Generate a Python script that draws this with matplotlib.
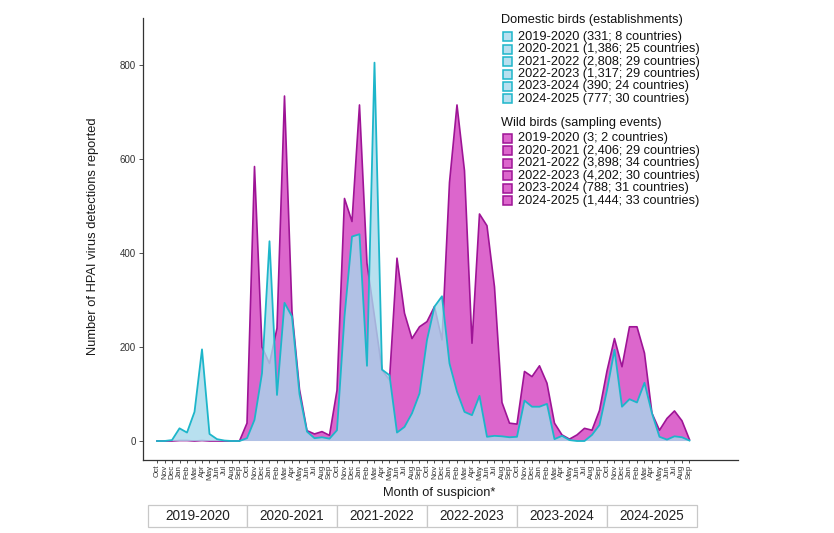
import matplotlib
matplotlib.use("Agg")
import matplotlib.pyplot as plt
from matplotlib.patches import Rectangle
import numpy as np

plt.rcParams['font.family'] = ['Liberation Sans', 'DejaVu Sans']

months = ['Oct', 'Nov', 'Dec', 'Jan', 'Feb', 'Mar', 'Apr', 'May', 'Jun', 'Jul', 'Aug', 'Sep']
seasons = ['2019-2020', '2020-2021', '2021-2022', '2022-2023', '2023-2024', '2024-2025']

# Monthly detections (Oct..Sep) per season
dom_2019_2020 = [0, 0, 2, 27, 18, 62, 195, 15, 4, 1, 0, 0]
dom_2020_2021 = [6, 45, 144, 425, 98, 294, 265, 100, 20, 6, 8, 5]
dom_2021_2022 = [23, 265, 435, 440, 160, 805, 152, 140, 18, 30, 59, 101]
dom_2022_2023 = [215, 286, 308, 165, 105, 62, 55, 96, 9, 11, 10, 8]
dom_2023_2024 = [9, 86, 73, 73, 79, 4, 11, 2, 0, 0, 13, 34]
dom_2024_2025 = [108, 194, 73, 89, 82, 124, 59, 9, 3, 10, 8, 1]

wild_2019_2020 = [0, 0, 0, 1, 1, 0, 1, 0, 0, 0, 0, 0]
wild_2020_2021 = [38, 584, 200, 165, 240, 734, 275, 110, 22, 15, 20, 12]
wild_2021_2022 = [108, 516, 467, 715, 378, 265, 151, 130, 389, 272, 218, 243]
wild_2022_2023 = [254, 286, 215, 550, 715, 575, 208, 483, 458, 328, 82, 38]
wild_2023_2024 = [36, 148, 137, 160, 123, 38, 13, 4, 13, 27, 23, 65]
wild_2024_2025 = [149, 218, 158, 243, 243, 187, 59, 23, 48, 64, 43, 3]

dom_legend = ['2019-2020 (331; 8 countries)', '2020-2021 (1,386; 25 countries)',
              '2021-2022 (2,808; 29 countries)', '2022-2023 (1,317; 29 countries)',
              '2023-2024 (390; 24 countries)', '2024-2025 (777; 30 countries)']
wild_legend = ['2019-2020 (3; 2 countries)', '2020-2021 (2,406; 29 countries)',
               '2021-2022 (3,898; 34 countries)', '2022-2023 (4,202; 30 countries)',
               '2023-2024 (788; 31 countries)', '2024-2025 (1,444; 33 countries)']

domestic = np.array(dom_2019_2020 + dom_2020_2021 + dom_2021_2022 + dom_2022_2023 + dom_2023_2024 + dom_2024_2025, float)
wild = np.array(wild_2019_2020 + wild_2020_2021 + wild_2021_2022 + wild_2022_2023 + wild_2023_2024 + wild_2024_2025, float)
x = np.arange(len(domestic))

W, H = 834, 533
fig = plt.figure(figsize=(W / 100, H / 100), dpi=100)

def fx(px):
    return px / W

def fy(py):
    return 1 - py / H

ax = fig.add_axes([fx(143), fy(460), fx(738) - fx(143), fy(18) - fy(460)])

WILD_FILL = '#DC66CC'
WILD_EDGE = '#9E1496'
DOM_FILL = '#A7D9EC'
DOM_EDGE = '#1DB6CA'

ax.fill_between(x, 0, wild, facecolor=WILD_FILL, edgecolor='none', zorder=1)
ax.plot(x, wild, color=WILD_EDGE, lw=1.2, zorder=2)
ax.fill_between(x, 0, domestic, facecolor=DOM_FILL, alpha=0.8, edgecolor='none', zorder=3)
ax.plot(x, domestic, color=DOM_EDGE, lw=1.3, zorder=4)

ax.set_xlim(-1.867, 77.47)
ax.set_ylim(-40.4, 900)
ax.set_yticks([0, 200, 400, 600, 800])
ax.set_xticks(x)
ax.set_xticklabels(months * len(seasons), rotation=90, fontsize=5.8, color='#333333')
ax.tick_params(axis='x', length=2.5, width=0.6, pad=1, colors='#333333')
ax.tick_params(axis='y', length=3, width=0.6, pad=2, labelsize=7, colors='#333333')
for s in ['top', 'right']:
    ax.spines[s].set_visible(False)
for s in ['left', 'bottom']:
    ax.spines[s].set_linewidth(0.9)
    ax.spines[s].set_color('#333333')

fig.text(fx(93), fy(236), 'Number of HPAI virus detections reported', rotation=90,
         ha='center', va='center', fontsize=9.3, color='#1a1a1a')
fig.text(fx(439), fy(493), 'Month of suspicion*', ha='center', va='center',
         fontsize=9.3, color='#1a1a1a')

# Season table below the axis
tab = fig.add_axes([fx(143), fy(527), fx(738) - fx(143), fy(505) - fy(527)])
tab.set_xlim(ax.get_xlim())
tab.set_ylim(0, 1)
tab.axis('off')
edges = [-1.2] + [12 * k for k in range(1, len(seasons))] + [12 * len(seasons)]
for k, s in enumerate(seasons):
    tab.add_patch(Rectangle((edges[k], 0), edges[k + 1] - edges[k], 1, facecolor='white',
                            edgecolor='#c8c8c8', lw=0.9, clip_on=False))
    tab.text((edges[k] + edges[k + 1]) / 2, 0.5, s, ha='center', va='center',
             fontsize=9.8, color='#222222')

# Legends (manual layout)
def legend_block(title, title_y, labels, first_y, step, fill, edge, alpha):
    fig.text(fx(501), fy(title_y), title, ha='left', va='center', fontsize=9.2, color='#111111')
    for j, lab in enumerate(labels):
        yc = first_y + j * step
        fig.patches.append(Rectangle((fx(502.5), fy(yc + 4.5)), fx(9.5), fy(0) - fy(9),
                                     transform=fig.transFigure, facecolor=fill, alpha=alpha,
                                     edgecolor='none'))
        fig.patches.append(Rectangle((fx(502.5), fy(yc + 4.5)), fx(9.5), fy(0) - fy(9),
                                     transform=fig.transFigure, facecolor='none',
                                     edgecolor=edge, lw=1.1))
        fig.text(fx(518), fy(yc), lab, ha='left', va='center', fontsize=9.2, color='#111111')

legend_block('Domestic birds (establishments)', 20, dom_legend, 36.7, 12.45, DOM_FILL, DOM_EDGE, 0.8)
legend_block('Wild birds (sampling events)', 123, wild_legend, 138.3, 12.45, WILD_FILL, WILD_EDGE, 1.0)

fig.savefig('out.png', dpi=100)
